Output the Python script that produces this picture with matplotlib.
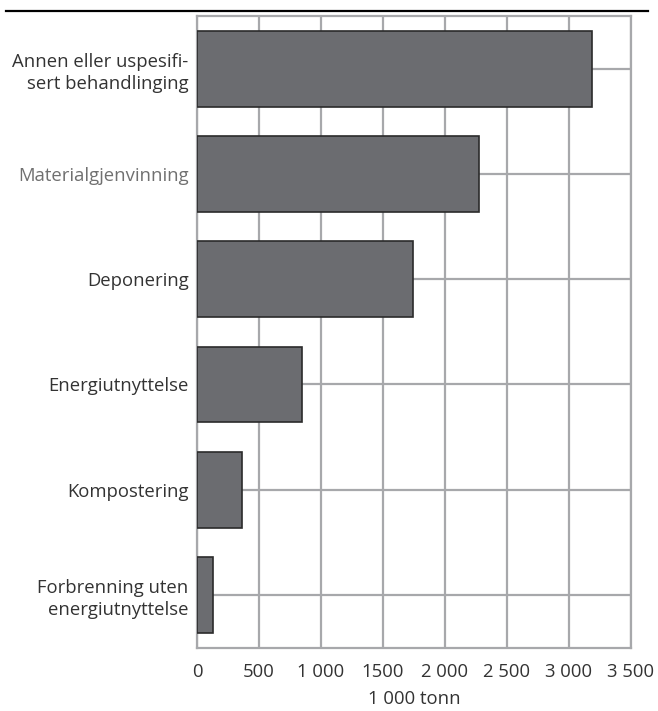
import matplotlib
matplotlib.use("Agg")
import matplotlib.pyplot as plt
from matplotlib.lines import Line2D

plt.rcParams["font.family"] = ["Open Sans", "DejaVu Sans"]

# data (1 000 tonn), top to bottom
categories = [
    "Annen eller uspesifi-\nsert behandlinging",
    "Materialgjenvinning",
    "Deponering",
    "Energiutnyttelse",
    "Kompostering",
    "Forbrenning uten\nenergiutnyttelse",
]
values = [3183, 2277, 1745, 847, 360, 127]
xticks = [0, 500, 1000, 1500, 2000, 2500, 3000, 3500]
xtick_labels = ["0", "500", "1 000", "1500", "2 000", "2 500", "3 000", "3 500"]
xlabel = "1 000 tonn"

GRID = "#a7a8ab"
BAR = "#6b6c70"
EDGE = "#2b2b2b"
TEXT = "#333333"
FS = 13.3

fig = plt.figure(figsize=(6.58, 7.11), dpi=100)
ax = fig.add_axes([197 / 658, 1 - 647.5 / 711, (631 - 197) / 658, (647.5 - 16.2) / 711])

pos = list(range(len(categories)))
ax.barh(pos, values, height=0.72, color=BAR, edgecolor=EDGE, linewidth=1.2, zorder=3)

ax.set_xlim(0, 3500)
ax.set_ylim(len(categories) - 0.5, -0.5)

# grid: verticals at ticks, horizontals at category centres
for x in xticks:
    ax.axvline(x, color=GRID, lw=1.6, zorder=1)
for y in pos:
    ax.axhline(y, color=GRID, lw=1.6, zorder=1)
for s in ax.spines.values():
    s.set_color(GRID)
    s.set_linewidth(1.6)

ax.set_xticks(xticks)
ax.set_xticklabels(xtick_labels, fontsize=FS, color=TEXT)
ax.set_yticks(pos)
ax.set_yticklabels(categories, fontsize=FS, color=TEXT, linespacing=1.3)
ax.get_yticklabels()[1].set_color("#707070")
ax.tick_params(axis="both", length=0)
ax.tick_params(axis="y", pad=6)
ax.tick_params(axis="x", pad=11)
ax.set_xlabel(xlabel, fontsize=FS, color=TEXT, labelpad=7)

# rule at the top of the figure
fig.add_artist(Line2D([6 / 658, 648 / 658], [1 - 10.5 / 711] * 2, color="black", lw=1.6,
                      transform=fig.transFigure))

fig.savefig("out.png", dpi=100)
